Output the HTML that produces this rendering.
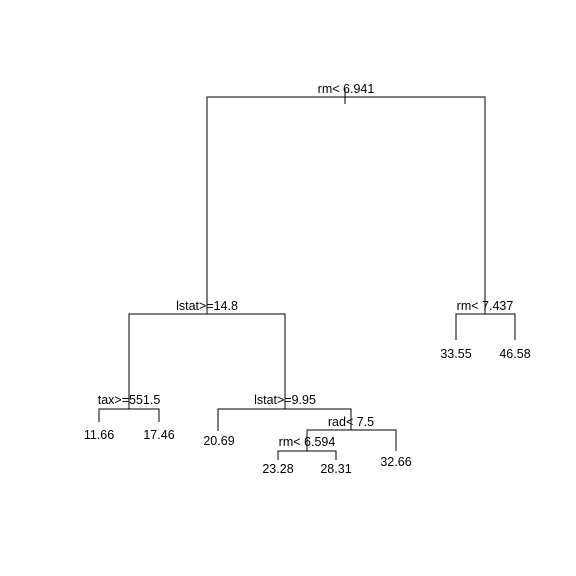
<!DOCTYPE html>
<html><head><style>body{margin:0;background:#fff}svg{display:block}text{font-family:"Liberation Sans",sans-serif;font-size:12.5px;fill:#000;text-anchor:middle}</style></head>
<body>
<svg width="576" height="576" viewBox="0 0 576 576">
<g stroke="#000" stroke-width="1" fill="none" shape-rendering="crispEdges">
<path d="M207 314V97H485V314"/>
<path d="M345 88V104"/>
<path d="M129 409V314H285V409"/>
<path d="M456 340V314H515V340"/>
<path d="M99 422V409H159V422"/>
<path d="M218 431V409H351V430"/>
<path d="M307 451V430H396V451"/>
<path d="M278 460V451H336V460"/>
</g>
<text x="346" y="93">rm&lt; 6.941</text>
<text x="207" y="310">lstat&gt;=14.8</text>
<text x="485" y="310">rm&lt; 7.437</text>
<text x="456" y="358">33.55</text>
<text x="515" y="358">46.58</text>
<text x="129" y="404">tax&gt;=551.5</text>
<text x="99" y="439">11.66</text>
<text x="159" y="439">17.46</text>
<text x="285" y="404">lstat&gt;=9.95</text>
<text x="219" y="445">20.69</text>
<text x="351" y="426">rad&lt; 7.5</text>
<text x="396" y="466">32.66</text>
<text x="307" y="446">rm&lt; 6.594</text>
<text x="278" y="473">23.28</text>
<text x="336" y="473">28.31</text>
</svg>
</body></html>
